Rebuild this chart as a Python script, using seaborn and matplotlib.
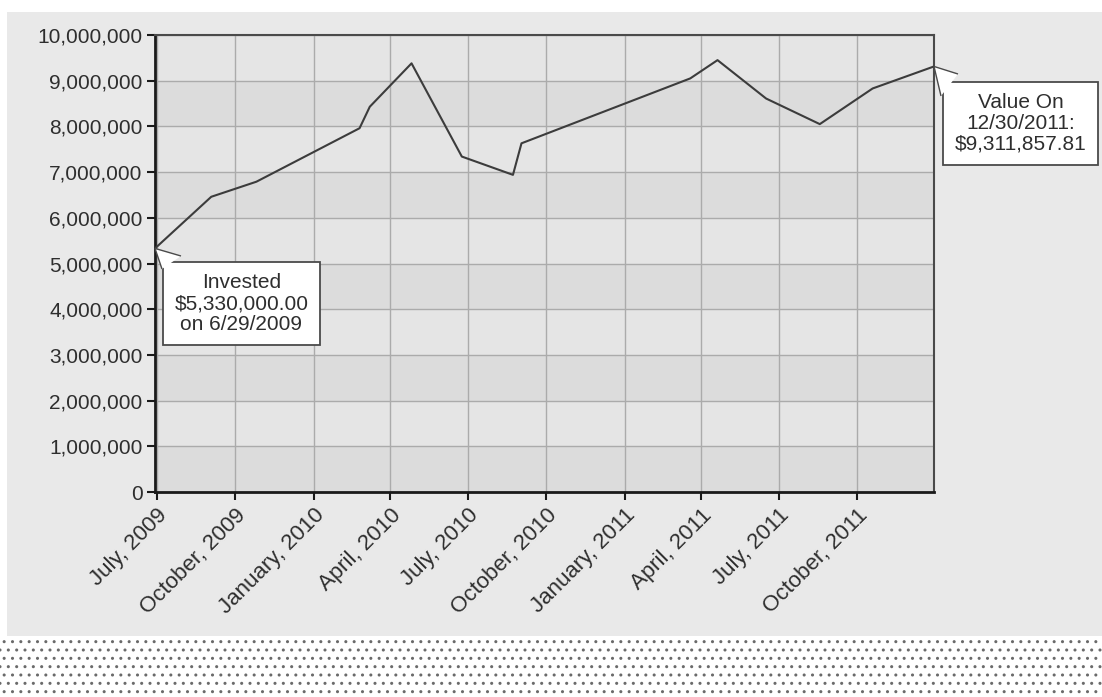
import matplotlib
matplotlib.use("Agg")
import matplotlib.pyplot as plt
import matplotlib.dates as mdates
from matplotlib.patches import Rectangle, Polygon
from matplotlib.transforms import IdentityTransform
from matplotlib.ticker import FuncFormatter
import seaborn as sns
import pandas as pd

# ---- data ----
dates = ["2009-06-29", "2009-09-03", "2009-10-26", "2010-02-24", "2010-03-08",
         "2010-04-26", "2010-06-24", "2010-08-23", "2010-09-02", "2011-03-19",
         "2011-04-20", "2011-06-16", "2011-08-18", "2011-10-19", "2011-12-30"]
values = [5330000.00, 6460000, 6790000, 7960000, 8430000,
          9380000, 7340000, 6940000, 7630000, 9050000,
          9450000, 8610000, 8050000, 8830000, 9311857.81]
y_ticks = [0, 1000000, 2000000, 3000000, 4000000, 5000000,
           6000000, 7000000, 8000000, 9000000, 10000000]
start_label = "Invested\n$5,330,000.00\non 6/29/2009"
end_label = "Value On\n12/30/2011:\n$9,311,857.81"

df = pd.DataFrame({"date": pd.to_datetime(dates), "value": values})

sns.set_style("white")
plt.rcParams["font.family"] = ["Liberation Sans", "DejaVu Sans"]
plt.rcParams["hatch.linewidth"] = 1.0

W, H = 1102, 697
fig = plt.figure(figsize=(W / 100, H / 100), dpi=100, facecolor="white")

# background panels
fig.patches.append(Rectangle((7 / W, 1 - 636 / H), 1 - 7 / W, (636 - 12) / H,
                             transform=fig.transFigure, facecolor="#e9e9e9",
                             edgecolor="none", zorder=-10))
fig.patches.append(Rectangle((0, 0), 1, (H - 637) / H, transform=fig.transFigure,
                             facecolor="white", edgecolor="#6a6a6a", linewidth=0,
                             hatch="..", zorder=-10))

ax = fig.add_axes([155 / W, 1 - 492 / H, (934 - 155) / W, (492 - 35) / H])
ax.set_facecolor("#e0e0e0")

# alternating horizontal bands
for i in range(len(y_ticks) - 1):
    ax.axhspan(y_ticks[i], y_ticks[i + 1],
               color="#e5e5e5" if i % 2 == 1 else "#dcdcdc", lw=0, zorder=0)

sns.lineplot(data=df, x="date", y="value", ax=ax, color="#3c3c3c",
             linewidth=1.5, zorder=5)

ax.set_xlim(pd.Timestamp("2009-06-29"), pd.Timestamp("2011-12-30"))
ax.set_ylim(0, 10000000)
ax.set_yticks(y_ticks)
ax.yaxis.set_major_formatter(FuncFormatter(lambda v, p: f"{v:,.0f}"))
ax.xaxis.set_major_locator(mdates.MonthLocator(bymonth=[1, 4, 7, 10]))
ax.xaxis.set_major_formatter(mdates.DateFormatter("%B, %Y"))

ax.grid(True, color="#ababab", linewidth=1.0, zorder=1)
ax.set_axisbelow(True)
ax.set_xlabel("")
ax.set_ylabel("")

for s in ["left", "bottom"]:
    ax.spines[s].set_color("#1a1a1a")
    ax.spines[s].set_linewidth(2)
for s in ["top", "right"]:
    ax.spines[s].set_color("#4a4a4a")
    ax.spines[s].set_linewidth(1.5)

ax.tick_params(axis="both", which="major", direction="out", length=6, width=1.5,
               color="#1a1a1a", labelcolor="#2e2e2e", pad=3,
               left=True, bottom=True)
ax.tick_params(axis="y", labelsize=15)
ax.tick_params(axis="x", labelsize=16)
plt.setp(ax.get_xticklabels(), rotation=45, ha="right", rotation_mode="anchor")

box = dict(boxstyle="square,pad=0.55", facecolor="white", edgecolor="#4a4a4a",
           linewidth=1.3)

ax.annotate(start_label, xy=(241.5 / W, 1 - 303.5 / H), xycoords="figure fraction",
            ha="center", va="center", fontsize=15, color="#2e2e2e",
            linespacing=1.12, bbox=box, zorder=10, annotation_clip=False)
ax.annotate(end_label, xy=(1020.5 / W, 1 - 123.5 / H), xycoords="figure fraction",
            ha="center", va="center", fontsize=15, color="#2e2e2e",
            linespacing=1.12, bbox=box, zorder=10, annotation_clip=False)

# callout pointers: tip at the first / last data point (through the data transform)
def pointer(idx, corner, dx, dy):
    tip = ax.transData.transform((mdates.date2num(df["date"].iloc[idx]),
                                  df["value"].iloc[idx]))
    cx, cy = corner[0], H - corner[1]
    verts = [(cx + dx, cy + 1), tuple(tip), (cx - 1, cy - dy)]
    ax.add_patch(Polygon(verts, closed=False, transform=IdentityTransform(),
                         facecolor="white", edgecolor="#4a4a4a", linewidth=1.0,
                         clip_on=False, zorder=11))

pointer(0, (163, 257), 18, 12)
pointer(-1, (942, 75), 16, 21)

fig.savefig("out.png", dpi=100, facecolor=fig.get_facecolor())
